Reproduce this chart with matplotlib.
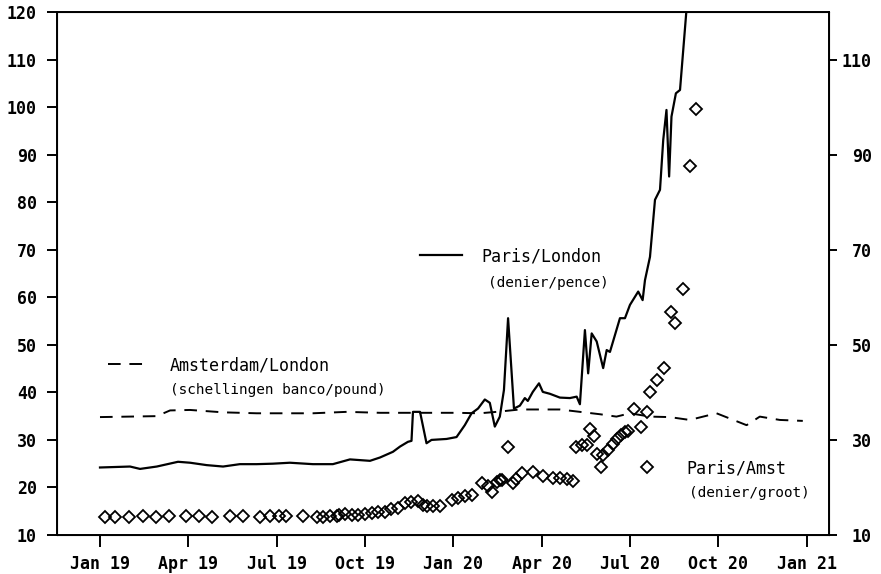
import matplotlib.pyplot as plt
from matplotlib.lines import Line2D

plt.rcParams['font.family'] = ['DejaVu Sans Mono', 'DejaVu Sans']

# x = months after Jan 1719
xtick_pos = [0, 3, 6, 9, 12, 15, 18, 21, 24]
xtick_labels = ['Jan 19', 'Apr 19', 'Jul 19', 'Oct 19', 'Jan 20',
                'Apr 20', 'Jul 20', 'Oct 20', 'Jan 21']

# Paris/London (denier/pence)
pl_month = [0.00, 1.02, 1.36, 1.93, 2.65, 3.06, 3.62, 4.18, 4.75, 5.32, 5.87,
            6.45, 7.23, 7.91, 8.49, 9.17, 9.51, 9.95, 10.19, 10.46, 10.58,
            10.63, 10.87, 11.09, 11.26, 11.77, 12.11, 12.39, 12.62, 12.84,
            13.07, 13.24, 13.41, 13.58, 13.72, 13.86, 14.06, 14.26, 14.43,
            14.53, 14.70, 14.91, 15.04, 15.28, 15.62, 15.96, 16.19, 16.30,
            16.47, 16.58, 16.70, 16.87, 17.09, 17.21, 17.32, 17.66, 17.83,
            18.00, 18.28, 18.43, 18.51, 18.68, 18.85, 19.02, 19.13, 19.24,
            19.33, 19.41, 19.56, 19.70, 19.92]
pl_value = [24.2, 24.4, 23.9, 24.4, 25.4, 25.2, 24.7, 24.4, 24.9, 24.9, 25.0,
            25.2, 24.9, 24.9, 25.9, 25.6, 26.3, 27.5, 28.6, 29.6, 29.8,
            35.9, 35.9, 29.3, 30.0, 30.2, 30.6, 33.1, 35.6, 36.6,
            38.5, 37.8, 32.8, 34.9, 40.5, 55.6, 36.6, 37.2, 38.8,
            38.2, 40.1, 41.9, 40.1, 39.7, 38.9, 38.8, 39.1, 37.5,
            53.1, 44.0, 52.4, 50.7, 45.1, 48.9, 48.5, 55.6, 55.6,
            58.4, 61.2, 59.4, 63.6, 68.5, 80.5, 82.6, 93.1, 99.4,
            85.4, 98.0, 102.9, 103.6, 120.5]

# Amsterdam/London (schellingen banco/pound)
al_month = [0.00, 1.93, 2.38, 3.06, 4.18, 5.32, 6.11, 7.23, 8.38, 9.51, 10.63,
            12.11, 12.90, 13.47, 14.26, 15.62, 16.30, 16.98, 17.54, 18.00,
            18.68, 19.35, 20.03, 20.94, 21.39, 21.96, 22.41, 23.09, 23.87]
al_value = [34.8, 35.0, 36.2, 36.3, 35.8, 35.6, 35.6, 35.6, 35.9, 35.7, 35.7,
            35.7, 35.6, 35.9, 36.4, 36.4, 35.9, 35.4, 34.9, 35.6,
            34.9, 34.8, 34.2, 35.6, 34.5, 33.1, 34.9, 34.2, 34.0]

# Paris/Amst (denier/groot)
pa_month = [0.17, 0.51, 0.99, 1.45, 1.89, 2.34, 2.92, 3.36, 3.81, 4.40, 4.87,
            5.43, 5.77, 6.09, 6.32, 6.90, 7.38, 7.58, 7.81, 8.04, 8.12, 8.32,
            8.55, 8.77, 9.00, 9.23, 9.45, 9.68, 9.90, 10.13, 10.36, 10.58,
            10.81, 10.98, 11.09, 11.30, 11.54, 11.94, 12.17, 12.39, 12.62,
            12.96, 13.19, 13.33, 13.47, 13.58, 13.67, 13.86, 14.03, 14.13,
            14.35, 14.71, 15.05, 15.39, 15.62, 15.85, 16.07, 16.16, 16.36,
            16.53, 16.64, 16.78, 16.87, 17.00, 17.09, 17.26, 17.43, 17.56,
            17.69, 17.83, 17.94, 18.13, 18.37, 18.58, 18.68, 18.92, 19.16,
            19.39, 19.52, 19.81, 20.03, 20.24]
pa_value = [13.8, 13.7, 13.8, 13.9, 13.8, 14.0, 14.0, 13.9, 13.8, 14.1, 14.0,
            13.8, 13.9, 14.0, 14.0, 14.1, 13.7, 13.8, 14.0, 14.1, 14.2, 14.4,
            14.3, 14.3, 14.4, 14.6, 14.8, 14.9, 15.4, 15.7, 16.8, 16.9,
            17.2, 16.3, 16.1, 16.1, 16.0, 17.3, 17.7, 18.1, 18.4,
            20.9, 20.3, 19.1, 21.2, 21.6, 21.6, 28.6, 20.9, 21.7,
            23.1, 23.3, 22.4, 22.0, 22.0, 21.7, 21.4, 28.6, 28.9,
            28.9, 32.3, 30.9, 27.1, 24.4, 26.9, 27.8, 29.2, 30.2,
            31.0, 31.7, 31.8, 36.5, 32.7, 35.9, 40.1, 42.7, 45.2,
            56.8, 54.6, 61.7, 87.6, 99.6]

fig = plt.figure(figsize=(8.81, 5.74), dpi=100)
ax = fig.add_axes([57 / 881, 39 / 574, 772 / 881, 523 / 574])

dash = (6.5, 4.5)
ax.plot(pl_month, pl_value, color='black', lw=1.6)
ax.plot(al_month, al_value, color='black', lw=1.4, dashes=dash)
ax.plot(pa_month, pa_value, ls='none', marker='D', ms=6.5, mfc='none',
        mec='black', mew=1.3)

ax.set_xlim(-1.46, 24.76)
ax.set_ylim(10, 120)
ax.set_xticks(xtick_pos, xtick_labels)
ax.set_yticks(range(10, 121, 10))
ax.tick_params(axis='both', direction='out', width=1.4, labelsize=12)
ax.tick_params(axis='y', length=7.2, pad=7.2)
ax.tick_params(axis='x', length=8.6, pad=6)
for lab in ax.get_xticklabels() + ax.get_yticklabels():
    lab.set_fontweight('bold')
for sp in ax.spines.values():
    sp.set_linewidth(1.4)

ax2 = ax.twinx()
ax2.set_ylim(10, 120)
ax2.set_yticks(range(10, 111, 20))
ax2.tick_params(axis='y', direction='out', length=5.8, width=1.4, pad=25,
                labelsize=12)
for lab in ax2.get_yticklabels():
    lab.set_fontweight('bold')
    lab.set_horizontalalignment('right')

# legends, placed beside each series
h_pl = Line2D([], [], color='black', lw=1.6)
h_al = Line2D([], [], color='black', lw=1.4, dashes=dash)
h_pa = Line2D([], [], ls='none', marker='D', ms=6.5, mfc='none', mec='black', mew=1.3)

leg1 = ax.legend([h_pl], ['Paris/London'], loc='center left',
                 bbox_to_anchor=(0.470, 0.533), frameon=False, handlelength=2.5,
                 handletextpad=1.2, borderpad=0, borderaxespad=0, prop={'size': 12})
ax.add_artist(leg1)
leg2 = ax.legend([h_al], ['Amsterdam/London'], loc='center left',
                 bbox_to_anchor=(0.066, 0.325), frameon=False, handlelength=2.2,
                 handletextpad=1.5, borderpad=0, borderaxespad=0, prop={'size': 12})
ax.add_artist(leg2)
leg3 = ax.legend([h_pa], ['Paris/Amst'], loc='center left',
                 bbox_to_anchor=(0.7532, 0.128), frameon=False, handlelength=1.0,
                 handletextpad=1.9, borderpad=0, borderaxespad=0, prop={'size': 12})

ax.text(0.558, 0.482, '(denier/pence)', transform=ax.transAxes,
        fontsize=10.4, va='center', ha='left')
ax.text(0.146, 0.277, '(schellingen banco/pound)', transform=ax.transAxes,
        fontsize=10.4, va='center', ha='left')
ax.text(0.819, 0.080, '(denier/groot)', transform=ax.transAxes,
        fontsize=10.4, va='center', ha='left')

fig.savefig('out.png', dpi=100)
